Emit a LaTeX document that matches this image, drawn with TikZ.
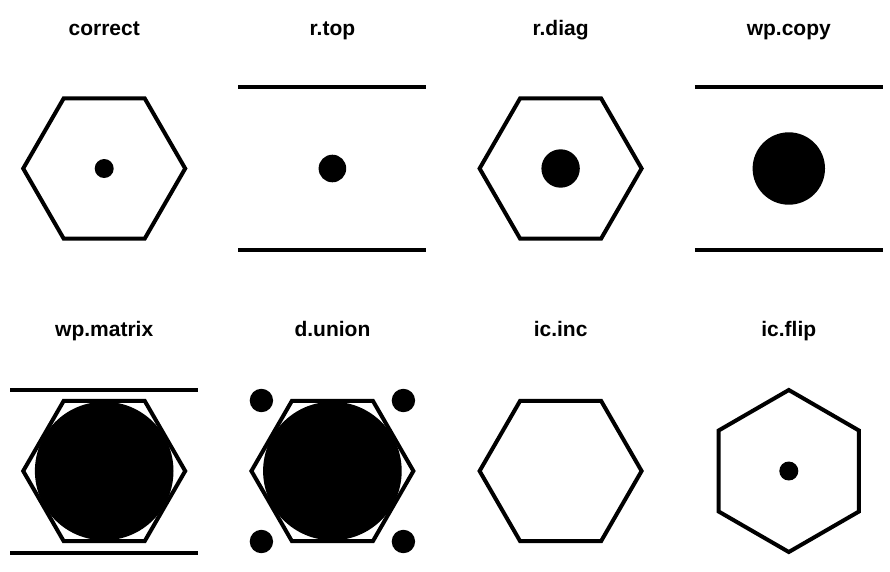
\documentclass[tikz,border=0pt]{standalone}
\usepackage{fontspec}
\setmainfont{Liberation Sans}
\begin{document}
\begin{tikzpicture}[x=1pt,y=-1pt,
  title/.style={font=\bfseries\fontsize{21}{25}\selectfont, anchor=base, inner sep=0pt},
  hexline/.style={draw=black, line width=4pt, line join=miter},
  barline/.style={draw=black, line width=4pt, line cap=butt},
  blob/.style={fill=black, draw=none}]
\useasboundingbox (0,0) rectangle (890,571);
\newcommand\hexflat[1]{\draw[hexline] (#1) +(0:81) -- +(60:81) -- +(120:81) -- +(180:81) -- +(240:81) -- +(300:81) -- cycle;}
\newcommand\hexpointy[1]{\draw[hexline] (#1) +(30:81) -- +(90:81) -- +(150:81) -- +(210:81) -- +(270:81) -- +(330:81) -- cycle;}
\newcommand\bars[1]{\draw[barline] (#1) +(-94,-81.5) -- +(94,-81.5); \draw[barline] (#1) +(-94,81.5) -- +(94,81.5);}
% centres
\coordinate (c1) at (104.2,168.5);
\coordinate (c2) at (332.4,168.5);
\coordinate (c3) at (560.6,168.5);
\coordinate (c4) at (788.8,168.5);
\coordinate (c5) at (104.2,471);
\coordinate (c6) at (332.4,471);
\coordinate (c7) at (560.6,471);
\coordinate (c8) at (788.8,471);
% titles
\node[title] (t1) at (104.2,35) {correct};
\node[title] (t2) at (332.4,35) {r.top};
\node[title] (t3) at (560.6,35) {r.diag};
\node[title] (t4) at (788.8,35) {wp.copy};
\node[title] (t5) at (104.2,336.5) {wp.matrix};
\node[title] (t6) at (332.4,336.5) {d.union};
\node[title] (t7) at (560.6,336.5) {ic.inc};
\node[title] (t8) at (788.8,336.5) {ic.flip};
% panel 1: correct
\hexflat{c1}
\fill[blob] (c1) circle[radius=9.5];
% panel 2: r.top
\bars{c2}
\fill[blob] (c2) circle[radius=13.8];
% panel 3: r.diag
\hexflat{c3}
\fill[blob] (c3) circle[radius=19.2];
% panel 4: wp.copy
\bars{c4}
\fill[blob] (c4) circle[radius=36.2];
% panel 5: wp.matrix
\bars{c5}
\hexflat{c5}
\fill[blob] (c5) circle[radius=69.3];
% panel 6: d.union
\hexflat{c6}
\fill[blob] (c6) circle[radius=69.3];
\fill[blob] (c6) +(-71,-70.5) circle[radius=11.7];
\fill[blob] (c6) +(71,-70.5) circle[radius=11.7];
\fill[blob] (c6) +(-71,70.5) circle[radius=11.7];
\fill[blob] (c6) +(71,70.5) circle[radius=11.7];
% panel 7: ic.inc
\hexflat{c7}
% panel 8: ic.flip
\hexpointy{c8}
\fill[blob] (c8) circle[radius=9.5];
\end{tikzpicture}
\end{document}
